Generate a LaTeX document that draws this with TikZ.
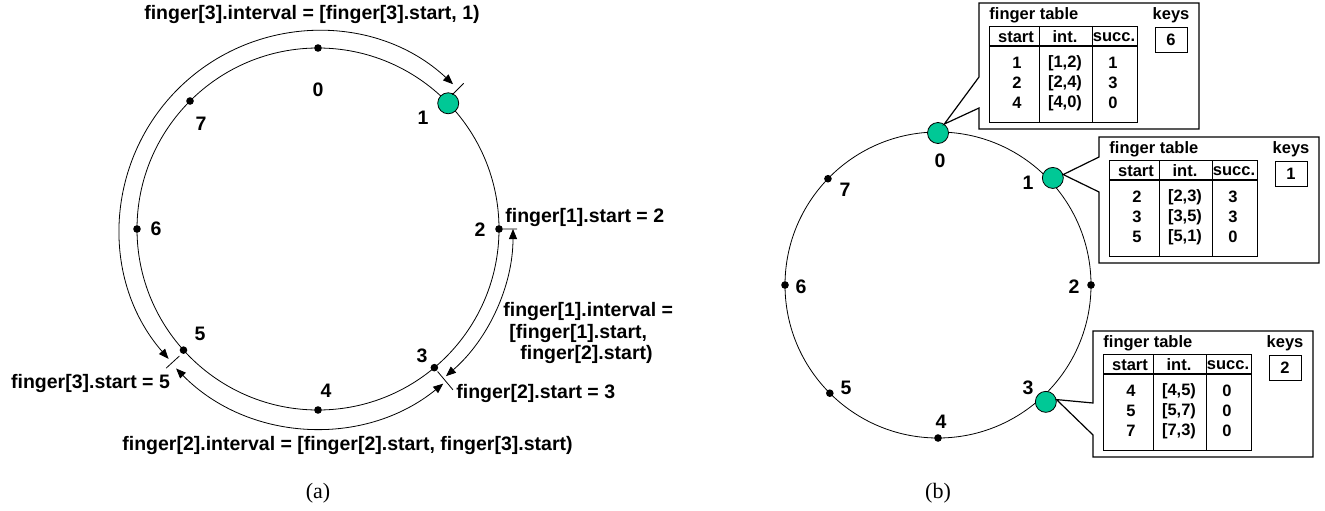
\documentclass[tikz,border=0pt]{standalone}
\usepackage{fontspec}
\setmainfont{Liberation Sans}
\newfontfamily\serifcap{Liberation Serif}
\usetikzlibrary{arrows.meta}
\definecolor{peergreen}{RGB}{0,200,150}
\tikzset{
  lbl/.style={font=\bfseries\fontsize{9.75}{10.75}\selectfont, inner sep=0pt},
  tlbl/.style={font=\bfseries\fontsize{8.25}{9}\selectfont, inner sep=0pt},
  figcap/.style={font=\serifcap\fontsize{11}{13}\selectfont, inner sep=0pt},
  dot/.style={circle, fill, inner sep=0pt, minimum size=3.8pt},
  peer/.style={circle, draw, fill=peergreen, inner sep=0pt, minimum size=10.5pt},
  ival/.style={{Triangle[length=5pt,width=4pt]}-{Triangle[length=5pt,width=4pt]}},
  keybox/.style={tlbl, draw, minimum width=16pt, minimum height=12.5pt},
}
\newcommand{\fingerbox}[8]{%
  \begin{scope}[shift={(#2,#3)}]
    \draw[line width=0.6pt] (0,0) -- (220,0) -- (220,-126) -- (0,-126) -- (0,-#5) -- (#6) -- (0,-#4) -- cycle;
    \node[tlbl, anchor=west] (#1title) at (10,-12) {finger table};
    \node[tlbl] (#1keys) at (192,-12) {keys};
    \node[keybox] (#1key) at (192,-36.5) {#7};
    \draw (10,-23) rectangle (158,-119);
    \draw[line width=0.8pt] (10,-43) -- (158,-43);
    \draw (60,-23) -- (60,-119) (113,-23) -- (113,-119);
    \node[tlbl] (#1hs) at (37,-34) {start};
    \node[tlbl] (#1hi) at (86,-34) {int.};
    \node[tlbl] (#1hc) at (135,-34) {succ.};
    \foreach \rs/\ri/\rc [count=\k] in {#8} {
      \node[tlbl] (#1s\k) at (38,-40-20*\k) {\rs};
      \node[tlbl] (#1i\k) at (86,-40-20*\k) {\ri};
      \node[tlbl] (#1c\k) at (134,-40-20*\k) {\rc};
    }
  \end{scope}}
\begin{document}
\begin{tikzpicture}[x=0.5pt, y=0.5pt]
  \useasboundingbox (0,0) rectangle (1325,510);
  % (a)
  \begin{scope}[shift={(318,281)}]
    \draw (0,0) circle[radius=181];
    \foreach \n/\ang in {0/90, 2/0, 3/-50, 4/-90, 5/-138, 6/180, 7/135}
      \node[dot] (a\n) at (\ang:181) {};
    \node[peer] (a1) at (44:181) {};
    \foreach \n/\x/\y in {0/0/139, 1/105/111, 2/162/-1, 3/104/-127, 4/8/-162, 5/-118/-105, 6/-162/0, 7/-117/105}
      \node[lbl] (la\n) at (\x,\y) {\n};
    \draw[ival] (221:198) arc[start angle=221, end angle=47, radius=198];
    \draw[ival] (224.5:199) arc[start angle=224.5, end angle=309, radius=199];
    \draw[ival] (0:195) arc[start angle=0, end angle=-49, radius=195];
    \draw (45:190) -- (45:206) (0:185) -- (0:199) (-50:186) -- (-50:210) (-137.5:188) -- (-137.5:206);
  \end{scope}
  \node[lbl] (f3int) at (312,495) {finger[3].interval = [finger[3].start, 1)};
  \node[lbl, anchor=west] (f1start) at (505,293) {finger[1].start = 2};
  \node[lbl, anchor=west, align=left] (f1int) at (503,177) {finger[1].interval =\\\hspace*{3pt}[finger[1].start,\\\hspace*{8.5pt}finger[2].start)};
  \node[lbl, anchor=west] (f2start) at (456,117) {finger[2].start = 3};
  \node[lbl] (f3start) at (90.5,127) {finger[3].start = 5};
  \node[lbl, anchor=west] (f2int) at (122,65) {finger[2].interval = [finger[2].start, finger[3].start)};
  \node[figcap] (capa) at (318,17) {(a)};
  % (b)
  \begin{scope}[shift={(938,225)}]
    \draw (0,0) circle[radius=153];
    \foreach \n/\ang in {2/0, 4/-90, 5/-135, 6/180, 7/136}
      \node[dot] (b\n) at (\ang:153) {};
    \node[peer] (b0) at (90:152) {};
    \node[peer] (b1) at (43:157) {};
    \node[peer] (b3) at (-47.3:159) {};
    \foreach \n/\x/\y in {0/2/124, 1/90/102, 2/136/-2, 3/90/-103, 4/3/-137, 5/-92/-103, 6/-137/-2, 7/-93/95}
      \node[lbl] (lb\n) at (\x,\y) {\n};
  \end{scope}
  \fingerbox{t0}{979}{507}{74}{105}{b0.55}{6}{1/{[1,2)}/1, 2/{[2,4)}/3, 4/{[4,0)}/0}
  \fingerbox{t1}{1099}{373}{20}{55}{b1.18}{1}{2/{[2,3)}/3, 3/{[3,5)}/3, 5/{[5,1)}/0}
  \fingerbox{t3}{1093}{179}{72}{104}{b3.12}{2}{4/{[4,5)}/0, 5/{[5,7)}/0, 7/{[7,3)}/0}
  \node[figcap] (capb) at (938,17) {(b)};
\end{tikzpicture}
\end{document}
